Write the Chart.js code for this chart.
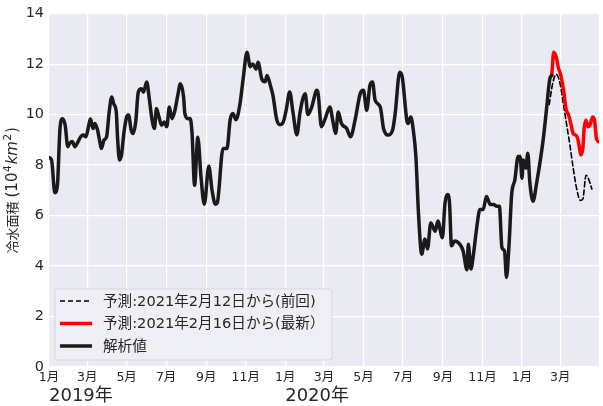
<!DOCTYPE html>
<html>
<head>
<meta charset="utf-8">
<script src="https://cdn.jsdelivr.net/npm/chart.js@4"></script>
<style>
  html, body { margin: 0; padding: 0; background: #fff; }
  #wrap { width: 603px; height: 406px; }
</style>
</head>
<body>
<div id="wrap"><canvas id="iceChart"></canvas></div>
<script>
const FONT = "'DejaVu Sans', 'Noto Sans CJK JP', sans-serif";
const TEXT = '#262626';

// x values are days since 2019-01-01
const analysisDays = [0,4,9,13,17,21,25,29,32,36,40,45,49,53,57,61,64,68,71,75,79,81,85,89,93,97,100,104,106,109,112,116,120,123,127,130,134,138,143,146,151,155,159,163,166,170,174,178,182,186,190,194,199,203,208,210,215,218,221,225,230,235,240,247,252,257,260,269,275,280,284,289,295,300,306,311,315,320,323,329,334,337,342,346,352,357,362,367,372,377,383,388,396,400,406,414,416,421,427,434,439,443,447,452,460,466,473,481,486,491,496,500,504,512,517,524,531,535,542,546,553,555,559,563,567,571,576,581,585,590,597,601,608,612,616,619,622,627,635,640,646,648,652,656,661,666,671,676,682,687,692,696,700,704,707,711,715,720,725,728,731,733,737,740,743,748,754,759,764,769,774,777];
const analysisValues = [8.3,8.2,6.9,7.2,9.45,9.84,9.58,8.73,8.86,8.93,8.73,8.93,9.12,9.19,9.12,9.52,9.84,9.45,9.65,9.39,8.86,8.66,8.99,9.12,10.1,10.7,10.43,10.1,9.06,8.2,8.4,9.32,9.9,9.98,9.39,9.25,9.71,10.89,11.02,10.89,11.29,10.63,9.84,9.45,10.24,9.9,9.58,9.71,9.52,10.3,9.84,10.1,10.76,11.22,10.7,10.04,9.84,9.85,9.3,7.2,9.1,7.5,6.45,7.95,7.0,6.45,6.5,8.66,8.66,9.8,10.04,9.8,10.4,11.4,12.47,11.9,12.0,11.8,12.07,11.4,11.3,11.55,11.17,10.77,9.8,9.6,9.7,10.24,10.9,10.1,9.2,10.1,10.83,10.0,10.3,10.96,10.83,9.52,9.85,10.3,9.7,9.25,10.1,9.65,9.45,9.12,9.78,10.83,10.96,10.17,11.16,11.29,10.57,10.3,9.45,9.19,9.39,10.04,11.68,11.48,9.78,9.65,9.9,9.39,8.34,6.1,4.47,5.07,4.68,5.71,5.38,5.78,5.12,6.5,6.83,6.5,4.8,4.99,4.86,4.6,3.85,4.86,3.88,4.47,5.52,6.24,6.24,6.76,6.44,6.44,6.37,6.37,4.73,4.6,3.55,4.86,6.83,7.42,8.34,8.34,7.48,8.2,7.88,8.47,7.35,6.57,7.35,8.14,9.06,10.24,11.42,11.55];

const prevDays = [773,779,784,790,795,800,805,810,816,821,825,830,833,836,839];
const prevValues = [10.4,11.3,11.6,11.2,10.4,9.6,8.8,7.9,7.0,6.6,6.65,7.6,7.5,7.3,7.05];

const latestDays = [777,780,784,787,791,795,799,803,807,810,814,817,819,822,825,827,830,833,836,840,843,846,849];
const latestValues = [11.55,12.47,12.27,11.88,11.55,11.02,10.24,9.98,9.58,9.25,9.19,9.06,8.8,8.4,8.66,9.45,9.78,9.52,9.58,9.9,9.78,9.06,8.93];

const tickDates = ['2019-01-01','2019-03-01','2019-05-01','2019-07-01','2019-09-01','2019-11-01','2020-01-01','2020-03-01','2020-05-01','2020-07-01','2020-09-01','2020-11-01','2021-01-01','2021-03-01'];
const tickLabels = ['1月','3月','5月','7月','9月','11月','1月','3月','5月','7月','9月','11月','1月','3月'];
const yearDates = ['2019-01-01','2020-01-01'];
const yearLabels = ['2019年','2020年'];
const yTicks = [0,2,4,6,8,10,12,14];

const seriesNames = ['予測:2021年2月12日から(前回)', '予測:2021年2月16日から(最新）', '解析値'];

const ORIGIN = Date.UTC(2019, 0, 1);
const dayOf = s => (Date.parse(s + 'T00:00:00Z') - ORIGIN) / 86400000;
const toPoints = (xs, ys) => xs.map((x, i) => ({ x, y: ys[i] }));

const tickDays = tickDates.map(dayOf);

// Gray plot background
const plotBackground = {
  id: 'plotBackground',
  beforeDraw(chart) {
    const { ctx, chartArea: a } = chart;
    ctx.save();
    ctx.fillStyle = '#EAEAF2';
    ctx.fillRect(a.left, a.top, a.right - a.left, a.bottom - a.top);
    ctx.restore();
  },
};

// Year labels under the January ticks + y axis title with super/italic parts
const extraText = {
  id: 'extraText',
  afterDraw(chart) {
    const { ctx, chartArea: a } = chart;
    const x = chart.scales.x;
    ctx.save();
    ctx.fillStyle = TEXT;
    ctx.font = '18px ' + FONT;
    ctx.textAlign = 'left';
    ctx.textBaseline = 'alphabetic';
    yearDates.forEach((d, i) => {
      ctx.fillText(yearLabels[i], x.getPixelForValue(dayOf(d)), 401);
    });

    // y title: 冷水面積 (10^4 km^2)
    const parts = [
      { t: '冷水面積 ', f: '13px ' + FONT, dy: 0 },
      { t: '(10', f: '15px ' + FONT, dy: 0 },
      { t: '4', f: '10.5px ' + FONT, dy: -6 },
      { t: 'km', f: 'italic 15px ' + FONT, dy: 0 },
      { t: '2', f: '10.5px ' + FONT, dy: -6 },
      { t: ')', f: '15px ' + FONT, dy: 0 },
    ];
    let total = 0;
    parts.forEach(p => { ctx.font = p.f; p.w = ctx.measureText(p.t).width + (p.dy ? 1.5 : 0); total += p.w; });
    const cy = (a.top + a.bottom) / 2;
    ctx.translate(17, cy);
    ctx.rotate(-Math.PI / 2);
    let pos = -total / 2;
    parts.forEach(p => {
      ctx.font = p.f;
      ctx.fillText(p.t, pos + (p.dy ? 0.5 : 0), p.dy);
      pos += p.w;
    });
    ctx.restore();
  },
};

// Legend box in the lower-left corner of the plot
const boxLegend = {
  id: 'boxLegend',
  afterDatasetsDraw(chart) {
    const { ctx, chartArea: a } = chart;
    const left = a.left + 6, top = a.bottom - 78, w = 277, h = 71;
    ctx.save();
    ctx.beginPath();
    ctx.roundRect(left, top, w, h, 3);
    ctx.fillStyle = 'rgba(238,238,244,0.95)';
    ctx.fill();
    ctx.strokeStyle = '#D6D6DC';
    ctx.lineWidth = 1;
    ctx.stroke();
    ctx.font = '14.6px ' + FONT;
    ctx.textBaseline = 'middle';
    ctx.textAlign = 'left';
    const order = [2, 1, 0];
    order.forEach((di, row) => {
      const ds = chart.data.datasets[di];
      const y = top + 12 + row * 22.5;
      ctx.beginPath();
      ctx.setLineDash(ds.borderDash || []);
      ctx.strokeStyle = ds.borderColor;
      ctx.lineWidth = ds.borderWidth;
      ctx.moveTo(left + 5, y);
      ctx.lineTo(left + 37, y);
      ctx.stroke();
      ctx.setLineDash([]);
      ctx.fillStyle = TEXT;
      ctx.fillText(ds.label, left + 48, y + 1);
    });
    ctx.restore();
  },
};

new Chart(document.getElementById('iceChart'), {
  type: 'line',
  data: {
    datasets: [
      {
        label: seriesNames[2],
        data: toPoints(analysisDays, analysisValues),
        borderColor: '#1a1a1a',
        borderWidth: 3.5,
        order: 0,
      },
      {
        label: seriesNames[1],
        data: toPoints(latestDays, latestValues),
        borderColor: '#ff0000',
        borderWidth: 3.5,
        order: 1,
      },
      {
        label: seriesNames[0],
        data: toPoints(prevDays, prevValues),
        borderColor: '#000000',
        borderWidth: 1.6,
        borderDash: [5, 3],
        order: 2,
      },
    ],
  },
  options: {
    responsive: true,
    maintainAspectRatio: false,
    animation: false,
    elements: {
      point: { radius: 0 },
      line: { cubicInterpolationMode: 'monotone', borderCapStyle: 'round', borderJoinStyle: 'round' },
    },
    layout: { padding: { top: 11, right: 4, left: 0, bottom: 0 } },
    plugins: {
      legend: { display: false },
      tooltip: { enabled: false },
    },
    scales: {
      x: {
        type: 'linear',
        min: 0,
        max: 850,
        afterBuildTicks: scale => { scale.ticks = tickDays.map(v => ({ value: v })); },
        afterFit: scale => { scale.height = 39; },
        grid: { color: '#ffffff', lineWidth: 1.2, drawTicks: false },
        border: { display: false },
        ticks: {
          color: TEXT,
          font: { family: FONT, size: 12.5 },
          padding: 3,
          maxRotation: 0,
          autoSkip: false,
          callback: v => tickLabels[tickDays.indexOf(v)] ?? '',
        },
      },
      y: {
        min: 0,
        max: 14,
        afterBuildTicks: scale => { scale.ticks = yTicks.map(v => ({ value: v })); },
        afterFit: scale => { scale.width = 49; },
        grid: { color: '#ffffff', lineWidth: 1.2, drawTicks: false },
        border: { display: false },
        ticks: {
          color: TEXT,
          font: { family: FONT, size: 14.4 },
          padding: 5,
        },
      },
    },
  },
  plugins: [plotBackground, boxLegend, extraText],
});
</script>
</body>
</html>
